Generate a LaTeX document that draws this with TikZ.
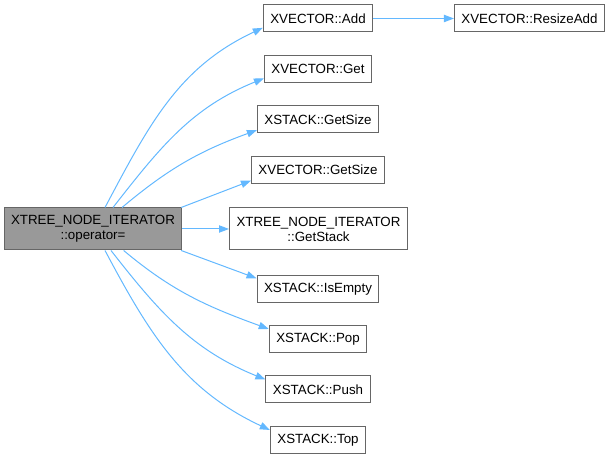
\documentclass[tikz,border=0pt]{standalone}
\usepackage{fontspec}
\setmainfont{Liberation Sans}
\usepackage{xcolor}
\usetikzlibrary{arrows.meta,positioning,calc}

\definecolor{edgeblue}{HTML}{63B8FF}
\definecolor{boxgray}{HTML}{666666}
\definecolor{mainfill}{HTML}{999999}

\tikzset{
  fn/.style={draw=boxgray,fill=white,line width=0.75pt,inner xsep=5.25pt,inner ysep=3pt,
    minimum height=20.25pt,align=center,font=\fontsize{10pt}{11.25pt}\selectfont},
  fntwo/.style={fn,minimum height=31.5pt},
  calledge/.style={draw=edgeblue,line width=0.75pt,-{Triangle[length=7.5pt,width=5.5pt]}}
}

\begin{document}
\begin{tikzpicture}[x=0.75pt,y=0.75pt]
  \useasboundingbox (0,0) rectangle (612,459);
  % caller
  \node[fntwo,fill=mainfill] (main) at (93,230) {XTREE\_NODE\_ITERATOR\\::operator=};
  % callees
  \node[fn] (add)       at (318,440.5) {XVECTOR::Add};
  \node[fn] (resizeadd) at (529.5,440.5) {XVECTOR::ResizeAdd};
  \node[fn] (vget)      at (318,390) {XVECTOR::Get};
  \node[fn] (sgetsize)  at (318,339.5) {XSTACK::GetSize};
  \node[fn] (vgetsize)  at (318,289) {XVECTOR::GetSize};
  \node[fntwo] (getstack) at (318.5,230) {XTREE\_NODE\_ITERATOR\\::GetStack};
  \node[fn] (isempty)   at (318,170) {XSTACK::IsEmpty};
  \node[fn] (pop)       at (318,120) {XSTACK::Pop};
  \node[fn] (push)      at (318,69.5) {XSTACK::Push};
  \node[fn] (top)       at (318,19) {XSTACK::Top};
  % calls above
  \draw[calledge] ([xshift=9pt]main.north) to[out=62,in=205] ([yshift=-7pt]add.west);
  \draw[calledge] (add.east) -- (resizeadd.west);
  \draw[calledge] ([xshift=15pt]main.north) to[out=52,in=202] ([yshift=-7pt]vget.west);
  \draw[calledge] ([xshift=21.75pt]main.north) to[out=40,in=200] ([yshift=-8pt]sgetsize.west);
  \draw[calledge] ([xshift=-1pt]main.north east) -- ([yshift=-8pt]vgetsize.west);
  % straight call
  \draw[calledge] (main.east) -- (getstack.west);
  % calls below
  \draw[calledge] ([xshift=-1pt]main.south east) -- ([yshift=8pt]isempty.west);
  \draw[calledge] ([xshift=23pt]main.south) to[out=-40,in=160] ([yshift=7.5pt]pop.west);
  \draw[calledge] ([xshift=13.5pt]main.south) to[out=-52,in=158] ([yshift=7.5pt]push.west);
  \draw[calledge] ([xshift=9pt]main.south) to[out=-62,in=155] ([yshift=7.5pt]top.west);
\end{tikzpicture}
\end{document}
